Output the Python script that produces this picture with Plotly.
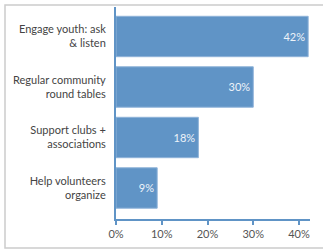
import plotly.graph_objects as go

categories = ["Engage youth: ask<br>& listen", "Regular community<br>round tables",
              "Support clubs +<br>associations", "Help volunteers<br>organize"]
values = [42, 30, 18, 9]
tick_vals = [0, 10, 20, 30, 40]
tick_text = ["0%", "10%", "20%", "30%", "40%"]

BLUE = "#6094c6"
FONT = "Lato"
W, H = 323, 250
L, R, T, B = 116, 13, 7, 31
pw, ph = W - L - R, H - T - B

def px(x):
    return (x - L) / pw

def py(y):
    return (H - B - y) / ph

fig = go.Figure(go.Bar(
    x=values, y=list(range(len(categories))), orientation="h",
    marker=dict(color=BLUE, line=dict(color="#8fb3d9", width=1)),
    text=[f"{v}%" for v in values], textposition="inside",
    insidetextanchor="end",
    textfont=dict(color="#eef3f9", size=11, family=FONT),
    width=0.8,
))

fig.update_layout(
    width=W, height=H,
    margin=dict(l=L, r=R, t=T, b=B, autoexpand=False),
    paper_bgcolor="white", plot_bgcolor="white",
    font=dict(family=FONT, size=11, color="#555555"),
    showlegend=False,
    shapes=[dict(type="rect", xref="paper", yref="paper",
                 x0=px(5), x1=px(335), y0=py(248), y1=py(5),
                 line=dict(color="#cccccc", width=1.5), fillcolor="rgba(0,0,0,0)",
                 layer="above")],
)
fig.update_xaxes(range=[0, 42.4], tickvals=tick_vals, ticktext=tick_text,
                 showgrid=False, zeroline=False, showline=True, automargin=False,
                 linecolor=BLUE, linewidth=2, ticks="outside", tickcolor=BLUE,
                 ticklen=4, tickwidth=1.5, tickfont=dict(size=11, color="#555555"))
fig.update_yaxes(range=[3.614, -0.584], tickvals=list(range(len(categories))),
                 ticktext=categories, showgrid=False, zeroline=False, automargin=False,
                 showline=True, linecolor=BLUE, linewidth=2, ticks="",
                 ticklabelstandoff=6,
                 tickfont=dict(size=11, color="#444444"))

fig.write_html("out.html", config={"displayModeBar": False},
               post_script="document.body.style.margin='0';document.body.style.overflow='hidden';")
